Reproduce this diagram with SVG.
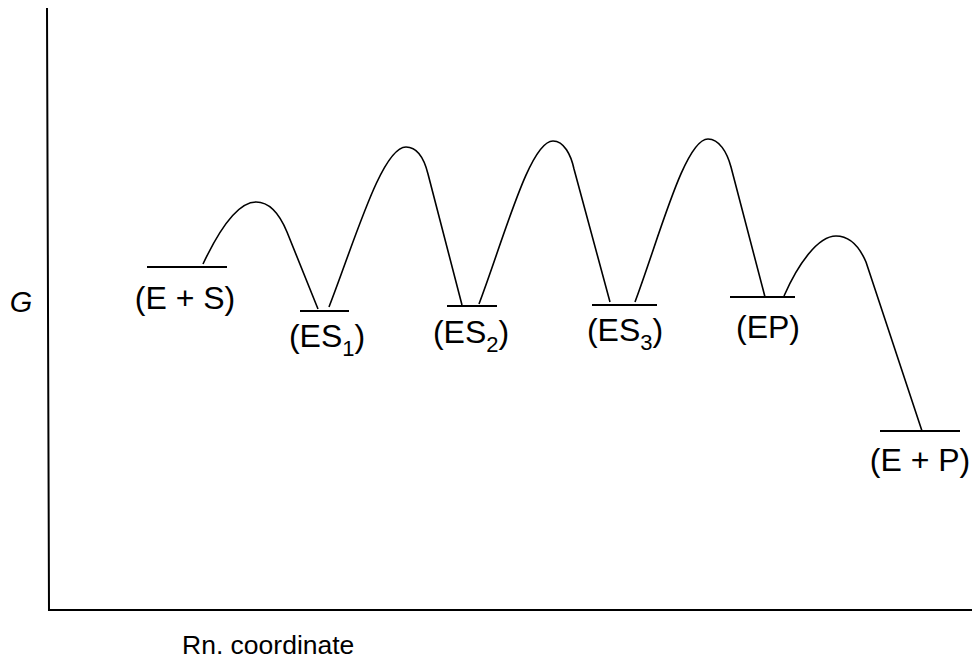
<svg xmlns="http://www.w3.org/2000/svg" width="972" height="660" viewBox="0 0 972 660">
<style>
.lvl{stroke:#000;stroke-width:2;fill:none}
.ax{stroke:#000;stroke-width:2;fill:none}
.cv{stroke:#000;stroke-width:1.6;fill:none;stroke-linejoin:round}
.lb{font-family:"Liberation Sans",Arial,sans-serif;font-size:32px;fill:#000;text-anchor:middle}
.sub{font-size:22px}
</style>
<rect width="972" height="660" fill="#fff"/>
<g id="axes">
<path class="ax" d="M47,8 L49,610 L972,610"/>
<text x="21" y="312" font-family="Liberation Sans,Arial,sans-serif" font-size="29" font-style="italic" text-anchor="middle">G</text>
<text x="182" y="654" font-family="Liberation Sans,Arial,sans-serif" font-size="26.5">Rn. coordinate</text>
</g>
<g id="ES">
<line class="lvl" x1="147" y1="267" x2="227" y2="267"/>
<text class="lb" x="185" y="309">(E + S)</text>
</g>
<g id="ES1">
<line class="lvl" x1="300" y1="311" x2="349" y2="311"/>
<text class="lb" x="327" y="347">(ES<tspan class="sub" dy="9">1</tspan><tspan dy="-9">)</tspan></text>
</g>
<g id="ES2">
<line class="lvl" x1="447" y1="306" x2="497" y2="306"/>
<text class="lb" x="471" y="343">(ES<tspan class="sub" dy="9">2</tspan><tspan dy="-9">)</tspan></text>
</g>
<g id="ES3">
<line class="lvl" x1="592" y1="305" x2="657" y2="305"/>
<text class="lb" x="625" y="341">(ES<tspan class="sub" dy="9">3</tspan><tspan dy="-9">)</tspan></text>
</g>
<g id="EP">
<line class="lvl" x1="730" y1="297" x2="795" y2="297"/>
<text class="lb" x="768" y="338">(EP)</text>
</g>
<g id="EP2">
<line class="lvl" x1="880" y1="431" x2="960" y2="431"/>
<text class="lb" x="920" y="471">(E + P)</text>
</g>
<g id="connectors">
<path class="cv" d="M203,264 C220,228 238,202 256,202 C270,202 280,215 287,232 L318,309"/>
<path class="cv" d="M329,307 C355,240 382,147 406,147 C417,147 424,158 428,174 L462,305"/>
<path class="cv" d="M479,304 C505,235 530,141 553,141 C564,141 571,155 574,169 L610,302"/>
<path class="cv" d="M635,302 C660,235 685,139 708,139 C719,139 727,152 731,167 L765,297"/>
<path class="cv" d="M784,296 C798,264 818,236 836,236 C850,236 860,248 866,262 L922,431"/>
</g>
</svg>
